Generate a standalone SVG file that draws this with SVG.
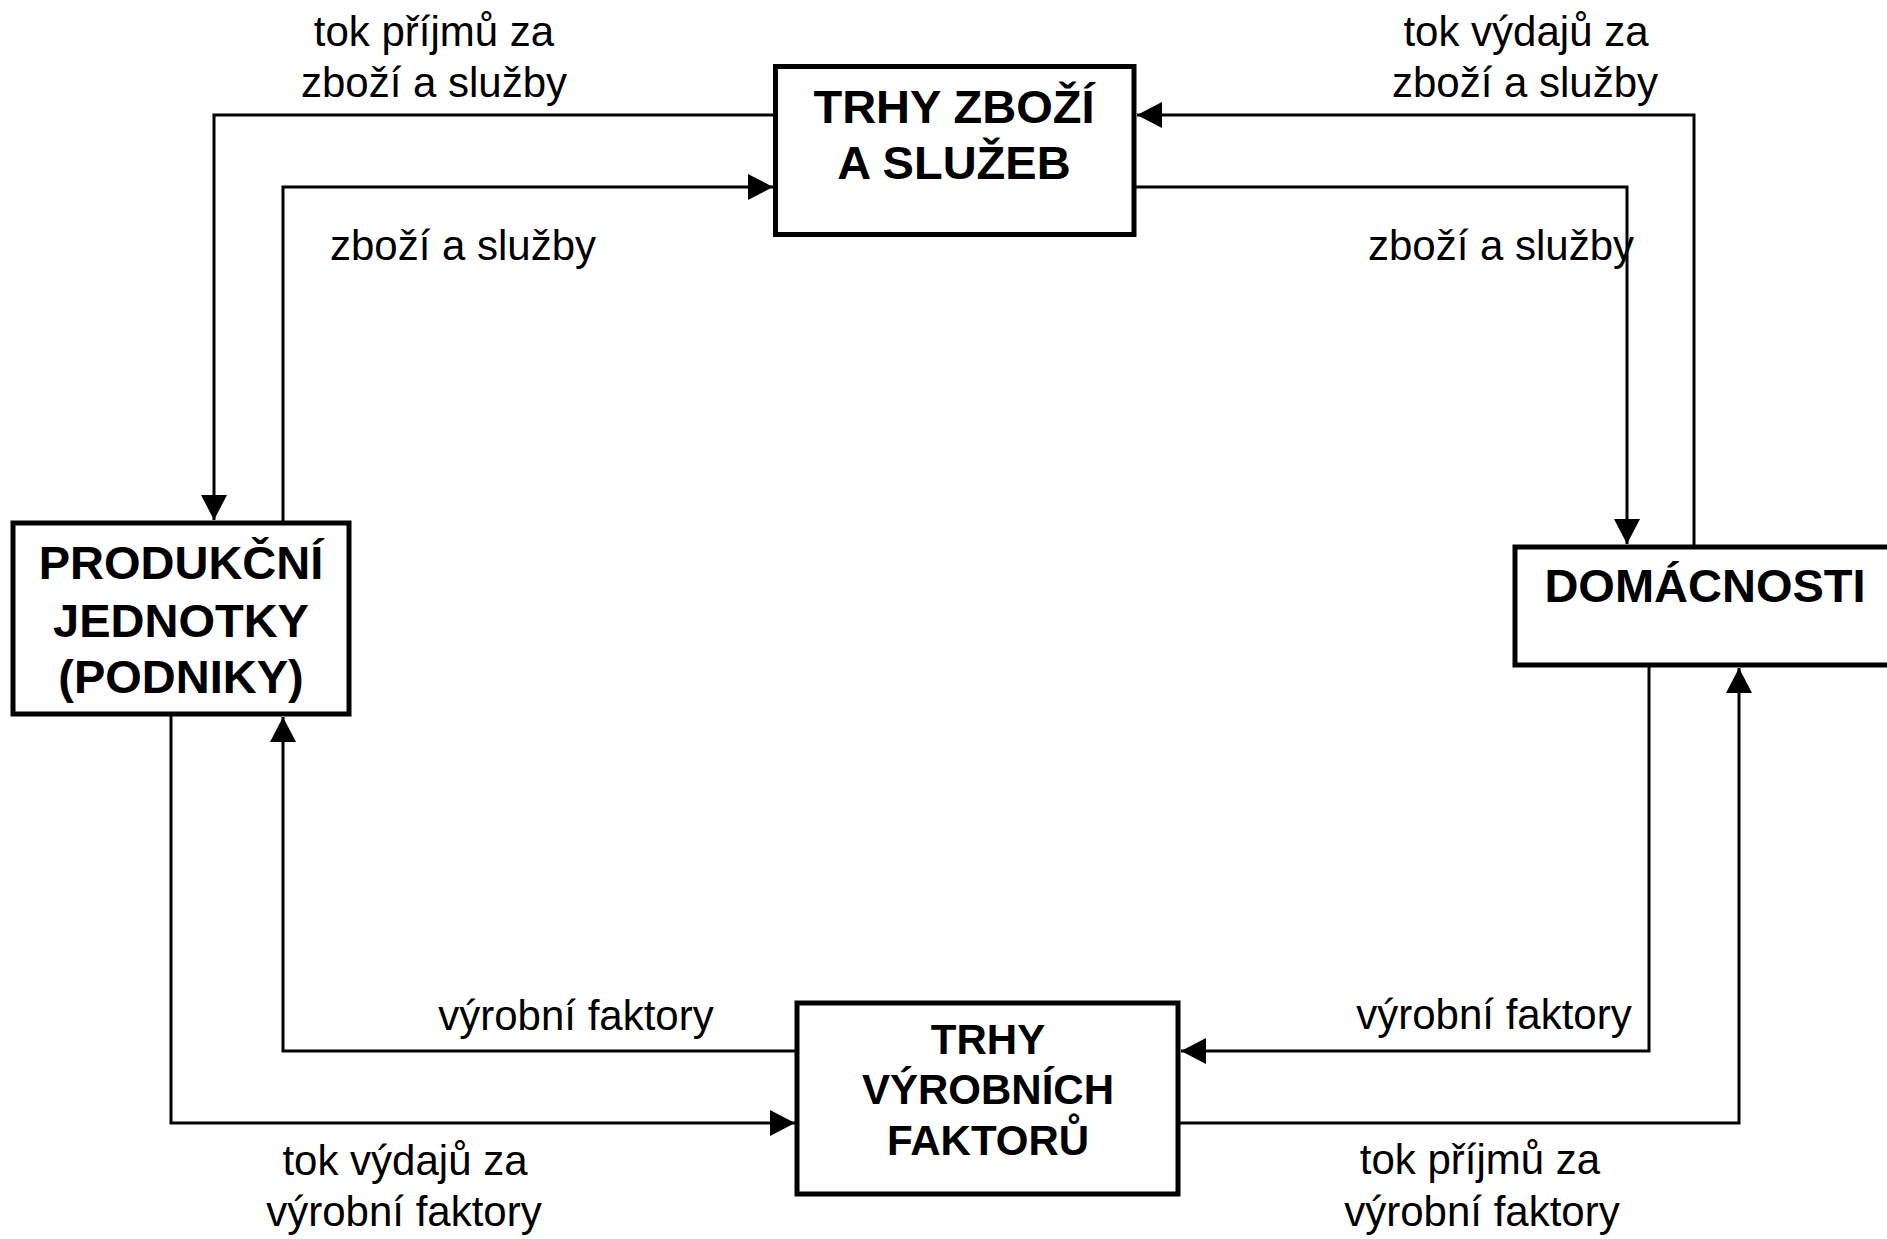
<svg xmlns="http://www.w3.org/2000/svg" width="1887" height="1239" viewBox="0 0 1887 1239">
  <style>
    .box { fill: #ffffff; stroke: #000000; stroke-width: 5; }
    .title { font-family: "Liberation Sans", Arial, sans-serif; font-weight: bold; font-size: 47px; text-anchor: middle; fill: #000; }
    .title2 { font-family: "Liberation Sans", Arial, sans-serif; font-weight: bold; font-size: 42px; text-anchor: middle; fill: #000; }
    .lbl { font-family: "Liberation Sans", Arial, sans-serif; font-size: 42px; text-anchor: middle; fill: #000; }
    .conn { fill: none; stroke: #000000; stroke-width: 3; stroke-linejoin: miter; }
  </style>
  <defs>
    <marker id="arr" markerUnits="userSpaceOnUse" markerWidth="26" markerHeight="26" refX="25" refY="13" orient="auto" viewBox="0 0 26 26">
      <path d="M0,0 L25,13 L0,26 z" fill="#000"/>
    </marker>
  </defs>
  <rect width="1887" height="1239" fill="#ffffff"/>

  <g id="connectors">
    <path class="conn" d="M775,115 L214,115 L214,520" marker-end="url(#arr)"/>
    <path class="conn" d="M283,521 L283,187 L773,187" marker-end="url(#arr)"/>
    <path class="conn" d="M1134,187 L1627,187 L1627,544" marker-end="url(#arr)"/>
    <path class="conn" d="M1694,547 L1694,115 L1137,115" marker-end="url(#arr)"/>
    <path class="conn" d="M1649,665 L1649,1051 L1181,1051" marker-end="url(#arr)"/>
    <path class="conn" d="M1178,1123 L1739,1123 L1739,668" marker-end="url(#arr)"/>
    <path class="conn" d="M797,1051 L283,1051 L283,717" marker-end="url(#arr)"/>
    <path class="conn" d="M171,714 L171,1123 L795,1123" marker-end="url(#arr)"/>
  </g>

  <g id="labels">
    <text class="lbl" x="434" y="46">tok příjmů za</text>
    <text class="lbl" x="434" y="97">zboží a služby</text>
    <text class="lbl" x="463" y="260">zboží a služby</text>
    <text class="lbl" x="1526" y="46">tok výdajů za</text>
    <text class="lbl" x="1525" y="97">zboží a služby</text>
    <text class="lbl" x="1501" y="260">zboží a služby</text>
    <text class="lbl" x="576" y="1030">výrobní faktory</text>
    <text class="lbl" x="1494" y="1029">výrobní faktory</text>
    <text class="lbl" x="405" y="1175">tok výdajů za</text>
    <text class="lbl" x="404" y="1226">výrobní faktory</text>
    <text class="lbl" x="1480" y="1174">tok příjmů za</text>
    <text class="lbl" x="1482" y="1226">výrobní faktory</text>
  </g>

  <g id="node-trhy-zbozi">
    <rect class="box" x="775.5" y="66.5" width="358.5" height="168"/>
    <text class="title" x="954" y="123">TRHY ZBOŽÍ</text>
    <text class="title" x="954" y="179">A SLUŽEB</text>
  </g>

  <g id="node-produkcni">
    <rect class="box" x="13" y="523" width="336" height="191"/>
    <text class="title" x="181" y="579">PRODUKČNÍ</text>
    <text class="title" x="181" y="637">JEDNOTKY</text>
    <text class="title" x="181" y="693">(PODNIKY)</text>
  </g>

  <g id="node-domacnosti">
    <rect class="box" x="1515" y="547" width="400" height="118"/>
    <text class="title" x="1705" y="602">DOMÁCNOSTI</text>
  </g>

  <g id="node-trhy-vyrobnich">
    <rect class="box" x="797" y="1003" width="381" height="191"/>
    <text class="title2" x="988" y="1054">TRHY</text>
    <text class="title2" x="988" y="1104">VÝROBNÍCH</text>
    <text class="title2" x="988" y="1155">FAKTORŮ</text>
  </g>
</svg>
